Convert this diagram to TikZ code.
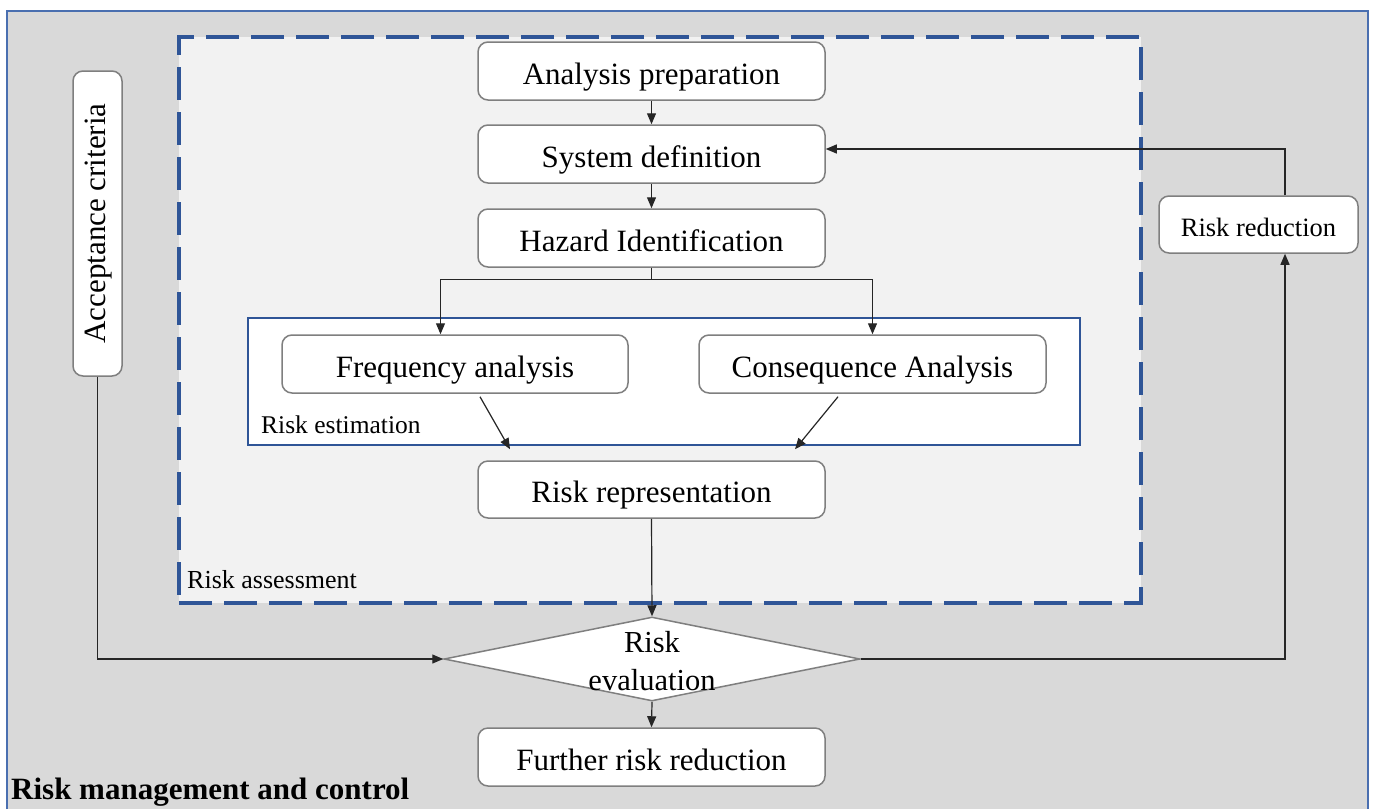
\documentclass[tikz,border=0pt]{standalone}
\usepackage{fontspec}
\setmainfont{Liberation Serif}
\usetikzlibrary{shapes.geometric,arrows.meta}
\definecolor{outerfill}{HTML}{D9D9D9}
\definecolor{outerline}{HTML}{4A6FB0}
\definecolor{assessfill}{HTML}{F2F2F2}
\definecolor{dashblue}{HTML}{2F5597}
\definecolor{boxline}{HTML}{7F7F7F}
\definecolor{conn}{HTML}{262626}
\tikzset{
  stepbox/.style={draw=boxline, line width=1.5pt, fill=white, rounded corners=10pt,
    minimum width=347pt, minimum height=58pt, inner sep=0pt, font=\fontsize{31}{34}\selectfont,
    text height=30pt, text depth=4pt},
  arr/.style={draw=conn, line width=1.2pt, -{Triangle[length=11pt,width=9pt]}},
}
\begin{document}
\begin{tikzpicture}[x=1pt,y=-1pt]
\useasboundingbox (0,0) rectangle (1375,809);
% outer frame
\fill[outerfill] (7,11) rectangle (1368,809);
\draw[outerline, line width=1.5pt] (7,809) -- (7,11) -- (1368,11) -- (1368,809);
% risk assessment dashed box
\node[draw=dashblue, fill=assessfill, line width=4.5pt, dash pattern=on 33pt off 12pt,
  minimum width=962pt, minimum height=566pt, inner sep=0pt] (assess) at (660,320) {};
\node[anchor=west, inner sep=0pt, font=\fontsize{26}{30}\selectfont] (assesslbl) at (187,580) {Risk assessment};
% risk estimation box
\node[draw=dashblue, fill=white, line width=1.5pt, minimum width=832pt, minimum height=127pt, inner sep=0pt] (est) at (664,381.5) {};
\node[anchor=west, inner sep=0pt, font=\fontsize{25.5}{30}\selectfont] (estlbl) at (261,425) {Risk estimation};
% step boxes
\node[stepbox] (ap) at (651.5,71) {Analysis preparation};
\node[stepbox] (sd) at (651.5,154) {System definition};
\node[stepbox] (hi) at (651.5,238) {Hazard Identification};
\node[stepbox, minimum width=346pt] (fa) at (455,364) {Frequency analysis};
\node[stepbox] (ca) at (872.5,364) {Consequence Analysis};
\node[stepbox, minimum height=57pt] (rr) at (651.5,489.5) {Risk representation};
\node[stepbox] (frr) at (651.5,757) {Further risk reduction};
\node[stepbox, minimum width=199pt, minimum height=57pt, font=\fontsize{26.5}{30}\selectfont,
  text height=26pt, text depth=3pt] (rred) at (1258.5,224.5) {Risk reduction};
\node[stepbox, minimum width=49pt, minimum height=305pt, text height=, text depth=] (ac) at (97.5,223.5) {\hspace*{3pt}\rotatebox{90}{Acceptance criteria}};
% diamond
\node[diamond, draw=boxline, line width=1.5pt, fill=white, inner sep=0pt,
  minimum width=416pt, minimum height=84pt] (re) at (652,659) {};
\node[align=center, inner sep=0pt, font=\fontsize{30.5}{38}\selectfont] (retext) at (652,661) {Risk\\evaluation};
% bottom label
\node[anchor=west, inner sep=0pt, font=\fontsize{31}{34}\selectfont\bfseries] (rmc) at (11,792) {Risk management and control};
% connectors
\draw[arr] (ap.south) -- (sd.north);
\draw[arr] (sd.south) -- (hi.north);
\draw[arr] (hi.south) -- ++(0,12) -| ([xshift=-14.5pt]fa.north);
\draw[arr] (hi.south) -- ++(0,12) -| (ca.north);
\draw[arr] ([xshift=25pt,yshift=-3pt]fa.south) -- ([xshift=-141.5pt,yshift=11pt]rr.north);
\draw[arr] ([xshift=-34.5pt,yshift=-3pt]ca.south) -- ([xshift=143.5pt,yshift=11pt]rr.north);
\draw[arr] (rr.south) -- (re.north);
\draw[arr] (ac.south) |- (re.west);
\draw[arr] (re.east) -| ([xshift=26.5pt]rred.south);
\draw[arr] ([xshift=26.5pt]rred.north) |- ([yshift=5pt]sd.east);
\draw[arr] (re.south) -- (frr.north);
\end{tikzpicture}
\end{document}
